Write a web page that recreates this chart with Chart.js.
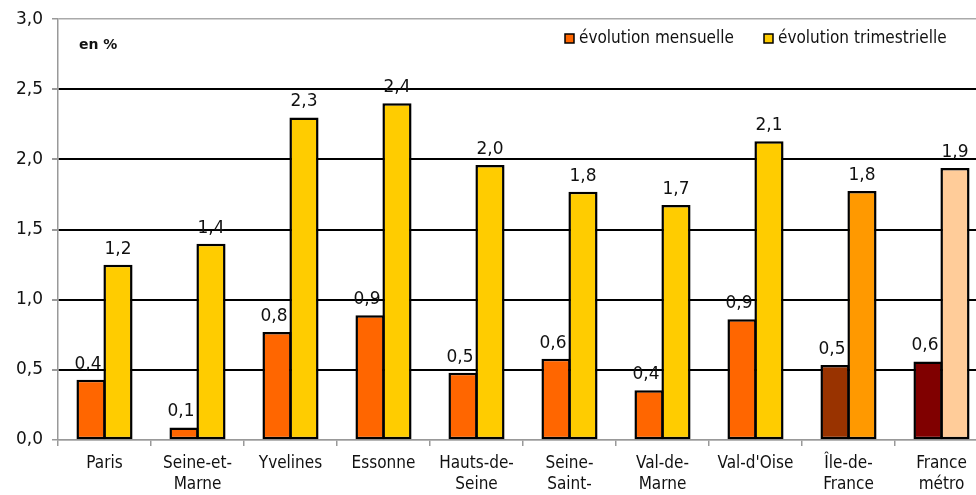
<!DOCTYPE html>
<html>
<head>
<meta charset="utf-8">
<script src="https://cdn.jsdelivr.net/npm/chart.js@4.4.1/dist/chart.umd.min.js"></script>
<style>
html,body{margin:0;padding:0;background:#fff;overflow:hidden;}
#wrap{position:absolute;left:0;top:0;width:990px;height:495px;}
</style>
</head>
<body>
<div id="wrap"><canvas id="c" width="990" height="495"></canvas></div>
<script>
const categories = [['Paris'], ['Seine-et-','Marne'], ['Yvelines'], ['Essonne'], ['Hauts-de-','Seine'], ['Seine-','Saint-','Denis'], ['Val-de-','Marne'], ["Val-d'Oise"], ['Île-de-','France'], ['France','métro']];
const mensuelle = [0.43, 0.09, 0.77, 0.89, 0.48, 0.58, 0.355, 0.86, 0.535, 0.56];
const trimestrielle = [1.25, 1.40, 2.30, 2.40, 1.96, 1.77, 1.675, 2.13, 1.775, 1.94];
const mensuelleLabels = ['0,4','0,1','0,8','0,9','0,5','0,6','0,4','0,9','0,5','0,6'];
const trimestrielleLabels = ['1,2','1,4','2,3','2,4','2,0','1,8','1,7','2,1','1,8','1,9'];
const yTicks = [0, 0.5, 1, 1.5, 2, 2.5, 3];
const seriesNames = ['évolution mensuelle', 'évolution trimestrielle'];

const mensColors = ['#FF6600','#FF6600','#FF6600','#FF6600','#FF6600','#FF6600','#FF6600','#FF6600','#993300','#800000'];
const trimColors = ['#FFCC00','#FFCC00','#FFCC00','#FFCC00','#FFCC00','#FFCC00','#FFCC00','#FFCC00','#FF9900','#FFCC99'];
const FONT = "'DejaVu Sans', sans-serif";
const FONT_C = "'DejaVu Sans Condensed', 'DejaVu Sans', sans-serif";
const TXT = '#111';

const labelPlugin = {
  id: 'valueLabels',
  afterDatasetsDraw(chart) {
    const ctx = chart.ctx;
    ctx.save();
    ctx.font = '17px ' + FONT;
    ctx.fillStyle = TXT;
    ctx.textAlign = 'center';
    ctx.textBaseline = 'alphabetic';
    const lbls = [mensuelleLabels, trimestrielleLabels];
    chart.data.datasets.forEach((ds, di) => {
      chart.getDatasetMeta(di).data.forEach((bar, i) => {
        ctx.fillText(lbls[di][i], bar.x - (di === 0 ? 3 : 0), bar.y - 11);
      });
    });
    ctx.restore();
  },
  afterDraw(chart) {
    const ctx = chart.ctx;
    ctx.save();
    ctx.font = '17px ' + FONT_C;
    ctx.textBaseline = 'middle';
    ctx.textAlign = 'left';
    const items = [[565, mensColors[0], seriesNames[0]], [764, trimColors[0], seriesNames[1]]];
    items.forEach(([x, col, txt]) => {
      ctx.fillStyle = col;
      ctx.fillRect(x, 34, 9, 9);
      ctx.strokeStyle = '#000';
      ctx.lineWidth = 1.5;
      ctx.strokeRect(x, 34, 9, 9);
      ctx.fillStyle = TXT;
      ctx.fillText(txt, x + 14, 38.5);
    });
    ctx.font = 'bold 14px ' + FONT;
    ctx.fillText('en %', 79, 45);
    ctx.restore();
  }
};

new Chart(document.getElementById('c'), {
  type: 'bar',
  data: {
    labels: categories,
    datasets: [
      { label: seriesNames[0], data: mensuelle, backgroundColor: mensColors, borderColor: '#000', borderWidth: 2.5, borderSkipped: false, categoryPercentage: 0.58, barPercentage: 1.08, inflateAmount: 0 },
      { label: seriesNames[1], data: trimestrielle, backgroundColor: trimColors, borderColor: '#000', borderWidth: 2.5, borderSkipped: false, categoryPercentage: 0.58, barPercentage: 1.08, inflateAmount: 0 }
    ]
  },
  options: {
    responsive: false,
    animation: false,
    layout: { padding: { top: 19, right: 2, left: 0, bottom: 0 } },
    plugins: { legend: { display: false }, tooltip: { enabled: false } },
    scales: {
      x: {
        grid: { display: true, drawOnChartArea: false, offset: true, tickLength: 6, tickColor: '#999', lineWidth: 1.5 },
        border: { color: '#999', width: 1.5 },
        ticks: { autoSkip: false, maxRotation: 0, minRotation: 0, color: TXT, font: { family: FONT_C, size: 17, lineHeight: 1.24 }, padding: 7 },
        afterFit(scale) { scale.height = 55; }
      },
      y: {
        min: 0, max: 3,
        afterBuildTicks(scale) { scale.ticks = yTicks.map(v => ({ value: v })); },
        grid: {
          color: (c) => (c.tick && (c.tick.value === 3 || c.tick.value === 0)) ? '#aaa' : '#000',
          lineWidth: (c) => (c.tick && (c.tick.value === 3 || c.tick.value === 0)) ? 1.5 : 2,
          tickLength: 6, tickColor: '#999'
        },
        border: { color: '#999', width: 1.5 },
        ticks: { color: TXT, padding: 9, font: { family: FONT, size: 17 }, callback: (v) => v.toFixed(1).replace('.', ',') },
        afterFit(scale) { scale.width = 58; }
      }
    }
  },
  plugins: [labelPlugin]
});
</script>
</body>
</html>
